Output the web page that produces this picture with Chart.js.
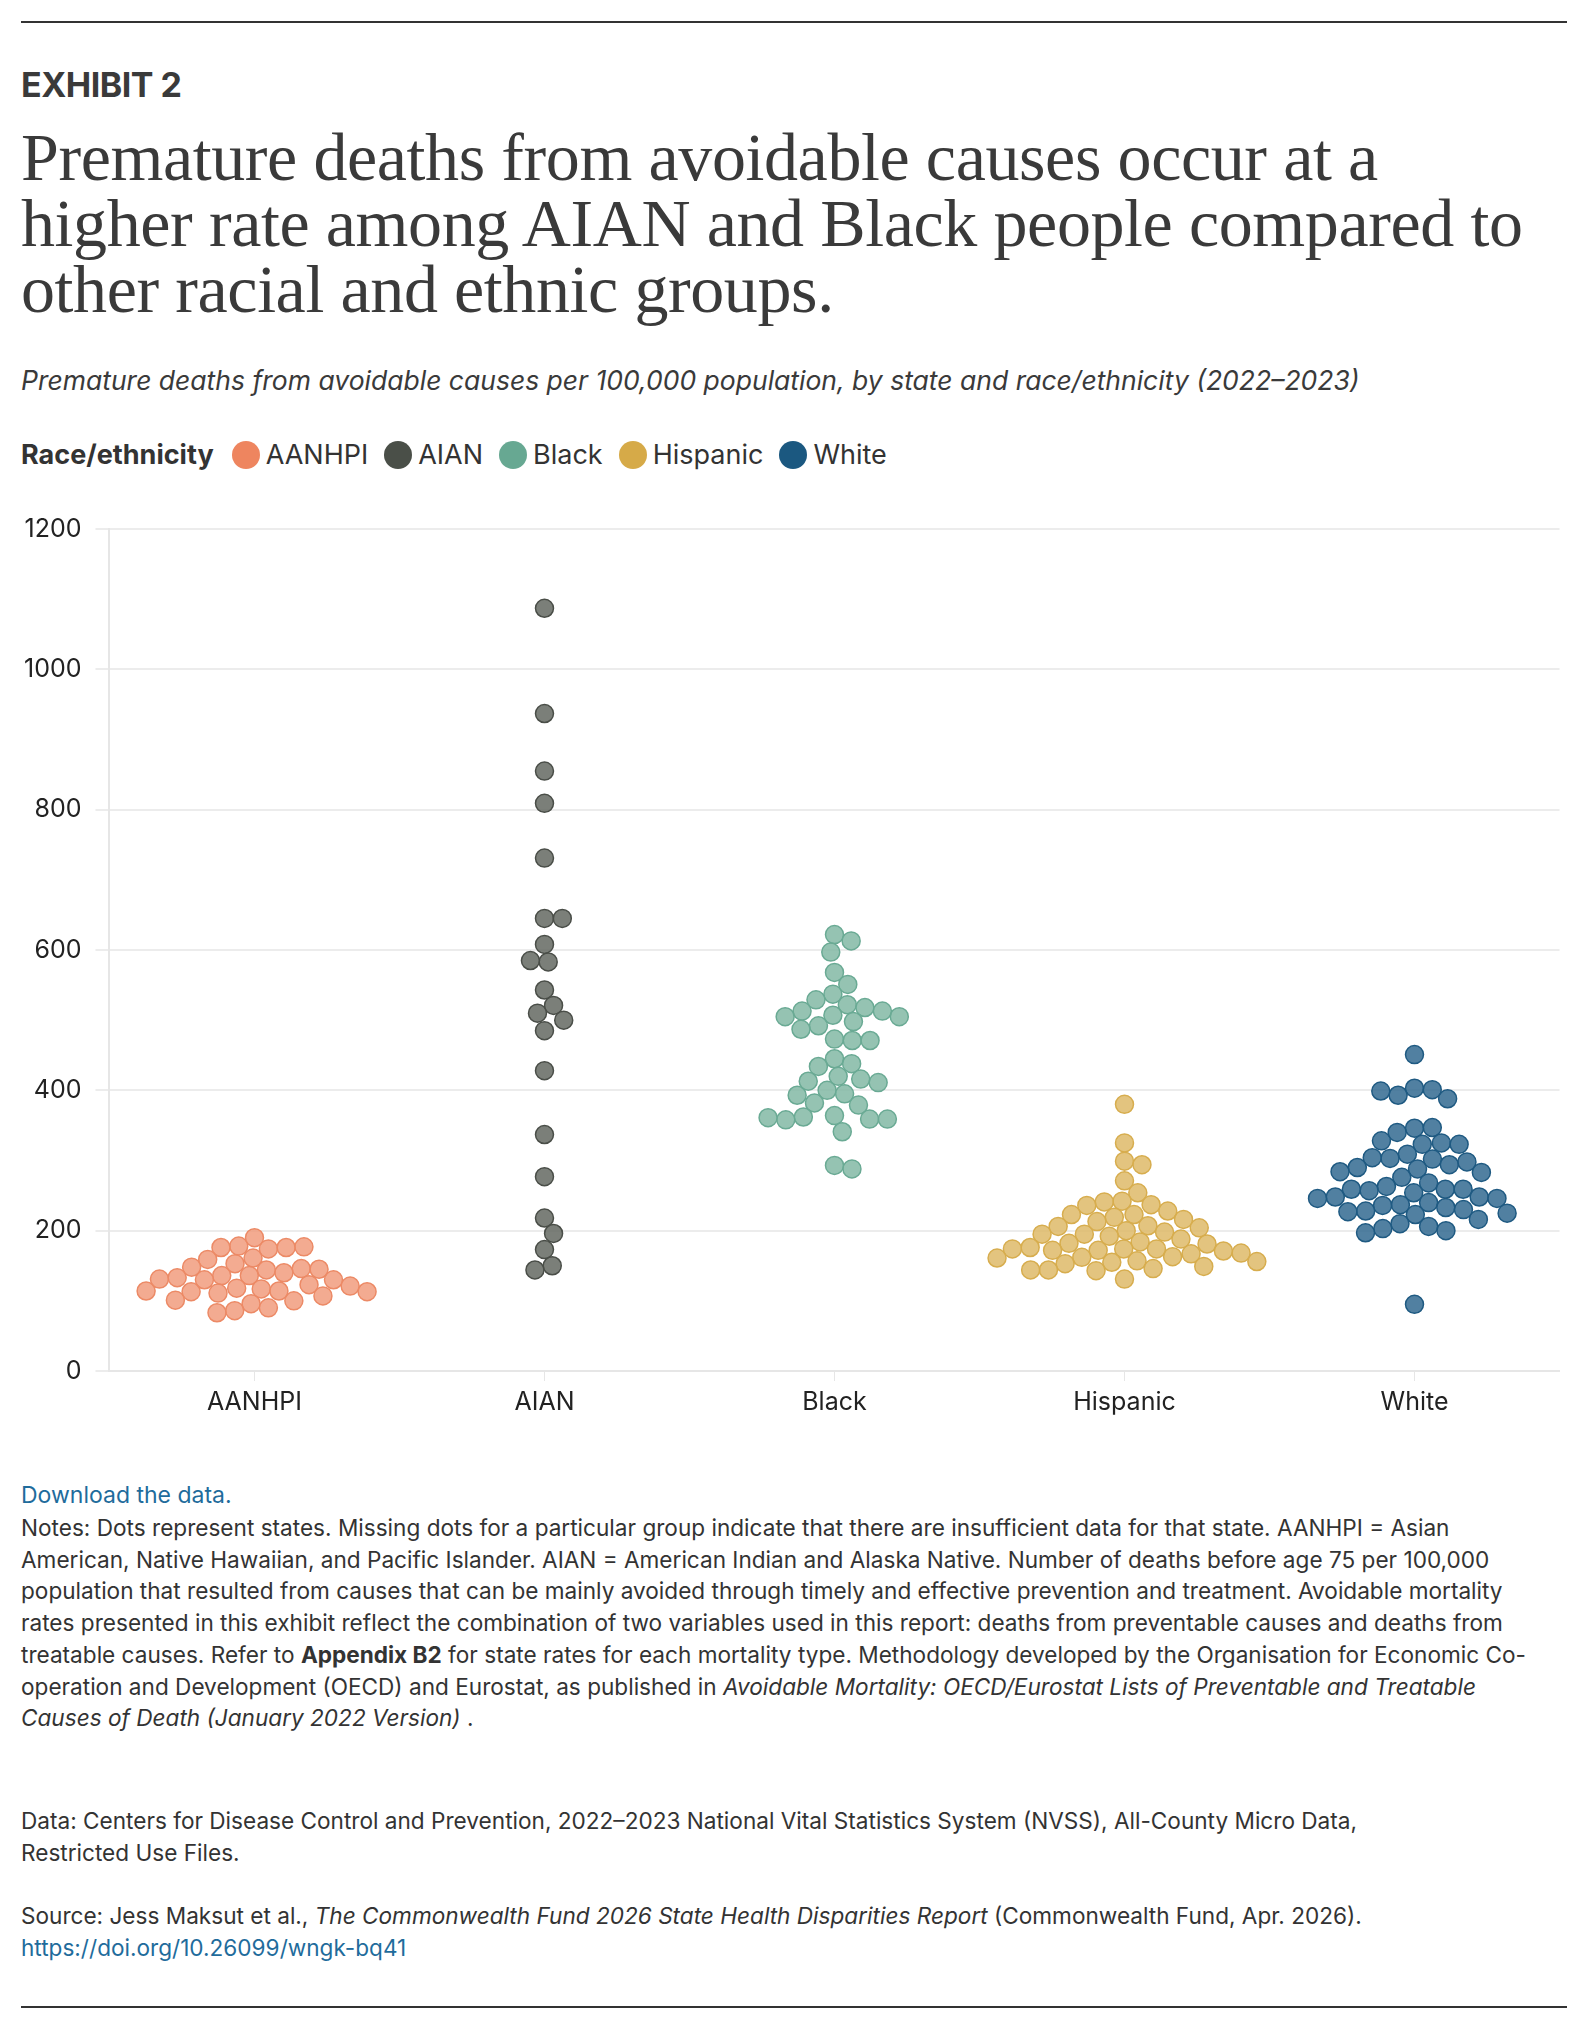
<!DOCTYPE html>
<html>
<head>
<meta charset="utf-8">
<script src="https://cdn.jsdelivr.net/npm/chart.js@4"></script>
<style>
body{margin:0;background:#fff;font-family:Inter,"Liberation Sans",sans-serif;color:#333;}
#page{position:relative;width:1588px;height:2022px;}
.rule{position:absolute;left:21px;right:21px;height:2px;background:#333;}
.t{position:absolute;left:21px;right:21px;}
#exhibit{top:64px;font-weight:700;font-size:34px;letter-spacing:-0.5px;color:#3a3a3a;}
#title{top:124px;font-family:"Liberation Serif","DejaVu Serif",serif;font-size:68px;line-height:66px;color:#3a3a3a;letter-spacing:-0.4px;}
#sub{top:364px;font-style:italic;font-size:26.5px;color:#3a3a3a;}
#legend{top:438px;font-size:27px;display:flex;align-items:center;}
#legend b{margin-right:14px;}
#legend span.d{display:inline-block;width:28px;height:28px;border-radius:50%;margin:0 6px 0 4px;}
#legend span.l{margin-right:12px;}
#chartbox{position:absolute;left:10px;top:500px;width:1560px;height:923px;}
#dl{top:1481px;font-size:23px;color:#1f6c9c;}
#notes{top:1512px;font-size:22.6px;line-height:31.7px;right:28px;}
#data{top:1805px;font-size:22.6px;line-height:31.7px;right:120px;}
#src{top:1900px;font-size:22.6px;line-height:31.7px;}
a{color:#1f6c9c;text-decoration:none;}
</style>
</head>
<body>
<div id="page">
<div class="rule" style="top:21px"></div>
<div class="t" id="exhibit">EXHIBIT 2</div>
<div class="t" id="title">Premature deaths from avoidable causes occur at a<br>higher rate among AIAN and Black people compared to<br>other racial and ethnic groups.</div>
<div class="t" id="sub">Premature deaths from avoidable causes per 100,000 population, by state and race/ethnicity (2022–2023)</div>
<div class="t" id="legend"><b>Race/ethnicity</b></div>
<div id="chartbox"><canvas id="c"></canvas></div>
<div class="t" id="dl">Download the data.</div>
<div class="t" id="notes">Notes: Dots represent states. Missing dots for a particular group indicate that there are insufficient data for that state. AANHPI = Asian American, Native Hawaiian, and Pacific Islander. AIAN = American Indian and Alaska Native. Number of deaths before age 75 per 100,000 population that resulted from causes that can be mainly avoided through timely and effective prevention and treatment. Avoidable mortality rates presented in this exhibit reflect the combination of two variables used in this report: deaths from preventable causes and deaths from treatable causes. Refer to <b>Appendix B2</b> for state rates for each mortality type. Methodology developed by the Organisation for Economic Co-operation and Development (OECD) and Eurostat, as published in <i>Avoidable Mortality: OECD/Eurostat Lists of Preventable and Treatable Causes of Death (January 2022 Version)</i> .</div>
<div class="t" id="data">Data: Centers for Disease Control and Prevention, 2022–2023 National Vital Statistics System (NVSS), All-County Micro Data, Restricted Use Files.</div>
<div class="t" id="src">Source: Jess Maksut et al., <i>The Commonwealth Fund 2026 State Health Disparities Report</i> (Commonwealth Fund, Apr. 2026).<br><a>https://doi.org/10.26099/wngk-bq41</a></div>
<div class="rule" style="top:2006px"></div>
</div>
<script>
const categories = ['AANHPI', 'AIAN', 'Black', 'Hispanic', 'White'];
const legendColors = ['#ee855f', '#4a4f48', '#67a892', '#d6aa48', '#1b5880'];
const fillColors = ['rgba(240,150,118,0.8)', 'rgba(100,104,98,0.85)', 'rgba(130,184,165,0.85)', 'rgba(222,186,104,0.85)', 'rgba(50,106,145,0.85)'];
const borderColors = ['#ec8a66', '#4a4e48', '#6aaa94', '#d7ad4e', '#1f5a82'];
const yTicks = [0, 200, 400, 600, 800, 1000, 1200];

const aanhpi = [190, 174, 178, 176, 176, 177, 161, 159, 153, 144, 140, 146, 148, 136, 145, 136, 133, 130, 130, 131, 123, 121, 117, 118, 114, 113, 114, 113, 111, 107, 100, 101, 96, 90, 86, 83];
const aian = [1087, 937, 855, 809, 731, 645, 645, 608, 583, 585, 543, 521, 510, 500, 485, 428, 337, 277, 218, 196, 173, 150, 144];
const black = [622, 613, 597, 568, 551, 537, 529, 522, 518, 513, 513, 507, 505, 505, 498, 492, 487, 473, 471, 471, 445, 438, 434, 420, 416, 413, 411, 400, 395, 393, 382, 379, 364, 362, 359, 358, 359, 361, 341, 293, 288];
const hispanic = [380, 325, 299, 294, 271, 254, 242, 241, 237, 236, 228, 223, 223, 219, 216, 213, 207, 206, 204, 200, 198, 195, 195, 192, 188, 184, 182, 181, 176, 174, 172, 174, 172, 171, 174, 168, 167, 162, 163, 161, 157, 156, 155, 153, 149, 146, 143, 144, 144, 131];
const white = [451, 403, 401, 393, 399, 388, 346, 347, 340, 325, 328, 323, 323, 309, 303, 302, 304, 294, 298, 290, 288, 283, 284, 276, 268, 263, 259, 257, 259, 259, 254, 248, 248, 246, 240, 246, 237, 236, 233, 230, 228, 227, 225, 223, 216, 210, 206, 203, 200, 197, 95];
const series = [aanhpi, aian, black, hispanic, white];

// beeswarm layout in pixel space (approximate plot scale), converted back to x units
const PX_PER_VAL = 845 / 1200, PX_PER_CAT = 293, DIST = 18;
function swarm(values, cat) {
  const placed = [];
  values.forEach(v => {
    const y = v * PX_PER_VAL;
    const cands = [0];
    placed.forEach(p => {
      const dy = Math.abs(p.y - y);
      if (dy < DIST) {
        const dx = Math.sqrt(DIST * DIST - dy * dy);
        cands.push(p.x + dx, p.x - dx);
      }
    });
    cands.sort((a, b) => Math.abs(a) - Math.abs(b));
    const x = cands.find(cx => placed.every(p => (p.x - cx) ** 2 + (p.y - y) ** 2 >= DIST * DIST - 0.01));
    placed.push({x, y, v});
  });
  return placed.map(p => ({x: cat + p.x / PX_PER_CAT, y: p.v}));
}

const leg = document.getElementById('legend');
categories.forEach((c, i) => {
  leg.insertAdjacentHTML('beforeend', `<span class="d" style="background:${legendColors[i]}"></span><span class="l">${c}</span>`);
});

new Chart(document.getElementById('c'), {
  type: 'scatter',
  data: {
    datasets: categories.map((c, i) => ({
      label: c,
      data: swarm(series[i], i),
      backgroundColor: fillColors[i],
      borderColor: borderColors[i],
      borderWidth: 1.5,
      pointRadius: 9,
      pointHoverRadius: 9
    }))
  },
  options: {
    responsive: true,
    maintainAspectRatio: false,
    animation: false,
    layout: {padding: {top: 10, right: 8}},
    plugins: {legend: {display: false}, tooltip: {enabled: false}},
    scales: {
      x: {
        type: 'linear', min: -0.5, max: 4.5,
        afterBuildTicks: s => { s.ticks = categories.map((c, i) => ({value: i})); },
        ticks: {callback: v => categories[v], color: '#222', font: {family: 'Inter', size: 25}, padding: 6},
        grid: {drawOnChartArea: false, color: '#e6e6e6', tickLength: 10},
        border: {color: '#e6e6e6', width: 2}
      },
      y: {
        min: 0, max: 1200,
        afterBuildTicks: s => { s.ticks = yTicks.map(v => ({value: v})); },
        ticks: {callback: v => String(v), color: '#222', font: {family: 'Inter', size: 25}, padding: 14},
        grid: {color: '#ececec', lineWidth: 2, tickLength: 14},
        border: {color: '#e6e6e6', width: 2}
      }
    }
  }
});
</script>
</body>
</html>
